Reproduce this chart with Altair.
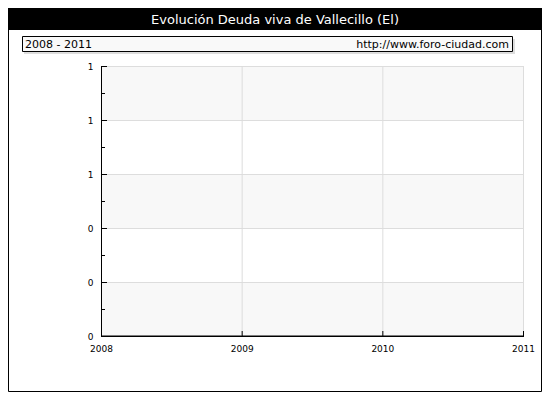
import altair as alt
import pandas as pd

# ---- data ----
title_text = "Evolución Deuda viva de Vallecillo (El)"
range_text = "2008 - 2011"
source_text = "http://www.foro-ciudad.com"
years = [2008, 2009, 2010, 2011]
deuda = [0, 0, 0, 0]
y_ticks = [0.0, 0.2, 0.4, 0.6, 0.8, 1.0]
y_minor = [0.1, 0.3, 0.5, 0.7, 0.9]
band_lo = [0.0, 0.4, 0.8]
band_hi = [0.2, 0.6, 1.0]

W, H = 422, 270
PL, PT, PR, PB = 93, 58, 19, 56
FONT = "DejaVu Sans"
GRID = "#dddddd"

df = pd.DataFrame({"year": years, "deuda": deuda})
bands = pd.DataFrame({"lo": band_lo, "hi": band_hi})
ymaj = pd.DataFrame({"v": y_ticks})
ymin = pd.DataFrame({"v": y_minor})
xt = pd.DataFrame({"year": years})

xs = alt.Scale(domain=[2008, 2011], nice=False)
ys = alt.Scale(domain=[0, 1], nice=False)

one = lambda **kw: alt.Data(values=[kw])

frame = alt.Chart(one(a=1)).mark_rect(fill="transparent", stroke="black", strokeWidth=1).encode(
    x=alt.value(-PL + 0.5), x2=alt.value(W + PR - 0.5),
    y=alt.value(-PT + 0.5), y2=alt.value(H + PB - 0.5))

titlebar = alt.Chart(one(a=1)).mark_rect(fill="black").encode(
    x=alt.value(-PL), x2=alt.value(W + PR),
    y=alt.value(-PT), y2=alt.value(-PT + 22))

title = alt.Chart(one(t=title_text)).mark_text(
    font=FONT, fontSize=13, color="white", align="center", baseline="middle").encode(
    text="t:N", x=alt.value((PL + W + PR) / 2 - PL), y=alt.value(-PT + 11.5))

shadow = alt.Chart(one(a=1)).mark_rect(fill="#dddddd").encode(
    x=alt.value(-77), x2=alt.value(414), y=alt.value(-27), y2=alt.value(-12))
box = alt.Chart(one(a=1)).mark_rect(fill="#f9f9f9", stroke="black", strokeWidth=1).encode(
    x=alt.value(-78.5), x2=alt.value(411.5), y=alt.value(-29.5), y2=alt.value(-14.5))
left_txt = alt.Chart(one(t=range_text)).mark_text(
    font=FONT, fontSize=11, color="black", align="left", baseline="middle").encode(
    text="t:N", x=alt.value(-76), y=alt.value(-21.5))
right_txt = alt.Chart(one(t=source_text)).mark_text(
    font=FONT, fontSize=11, color="black", align="right", baseline="middle").encode(
    text="t:N", x=alt.value(408), y=alt.value(-21.5))

band_layer = alt.Chart(bands).mark_rect(fill="#f8f8f8").encode(
    y=alt.Y("lo:Q", scale=ys), y2="hi:Q", x=alt.value(0), x2=alt.value(W))

ygrid = alt.Chart(ymaj).mark_rule(color=GRID, strokeWidth=1, yOffset=0.5).encode(
    y=alt.Y("v:Q", scale=ys), x=alt.value(0), x2=alt.value(W + 1))
xgrid = alt.Chart(xt).mark_rule(color=GRID, strokeWidth=1, xOffset=0.5).encode(
    x=alt.X("year:Q", scale=xs), y=alt.value(0), y2=alt.value(H))

line = alt.Chart(df).mark_line(color="black", strokeWidth=1).encode(
    x=alt.X("year:Q", scale=xs,
            axis=alt.Axis(values=years, format="d", title=None, ticks=False, domain=False,
                          grid=False,
                          labelFont=FONT, labelFontSize=9, labelColor="black",
                          labelPadding=8, labelFlush=False, zindex=1)),
    y=alt.Y("deuda:Q", scale=ys,
            axis=alt.Axis(values=y_ticks, format=".0f", title=None, ticks=False, domain=False,
                          grid=False,
                          labelFont=FONT, labelFontSize=9, labelColor="black",
                          labelPadding=8, labelFlush=False, zindex=1)))

ytick_major = alt.Chart(ymaj).mark_rule(color="black", strokeWidth=1, yOffset=0.5).encode(
    y=alt.Y("v:Q", scale=ys), x=alt.value(0), x2=alt.value(6))
ytick_minor = alt.Chart(ymin).mark_rule(color="black", strokeWidth=1, yOffset=0.5).encode(
    y=alt.Y("v:Q", scale=ys), x=alt.value(0), x2=alt.value(4))
xtick = alt.Chart(xt).mark_rule(color="black", strokeWidth=1, xOffset=0.5).encode(
    x=alt.X("year:Q", scale=xs), y=alt.value(H + 0.5), y2=alt.value(H - 5))

yaxis_line = alt.Chart(one(a=1)).mark_rule(color="black", strokeWidth=1).encode(
    x=alt.value(0.5), y=alt.value(0), y2=alt.value(H + 1))
xaxis_line = alt.Chart(one(a=1)).mark_rule(color="black", strokeWidth=1).encode(
    x=alt.value(0), x2=alt.value(W + 1), y=alt.value(H + 0.5))

chart = alt.layer(
    frame, titlebar, title, shadow, box, left_txt, right_txt,
    band_layer, ygrid, xgrid, line, ytick_major, ytick_minor, xtick, yaxis_line, xaxis_line
).properties(
    width=W, height=H,
    autosize=alt.AutoSizeParams(type="none"),
    padding={"left": PL, "top": PT, "right": PR, "bottom": PB},
    background="white",
).configure_view(stroke="transparent")

chart.save("out.html", embed_options={"renderer": "svg", "actions": False})
